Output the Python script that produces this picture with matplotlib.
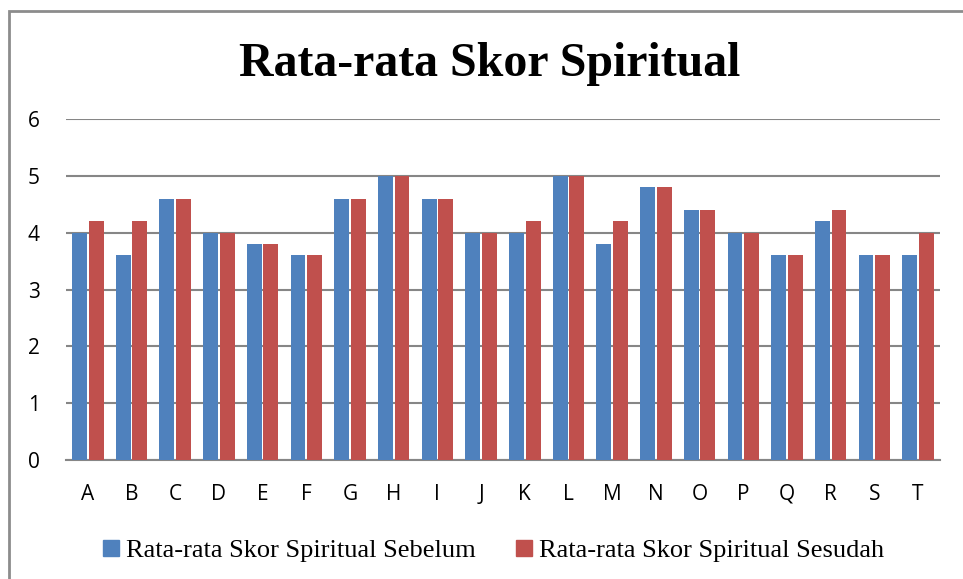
import numpy as np
import matplotlib
matplotlib.use('Agg')
import matplotlib.pyplot as plt
from matplotlib.patches import Rectangle
from matplotlib.lines import Line2D

categories = ['A', 'B', 'C', 'D', 'E', 'F', 'G', 'H', 'I', 'J',
              'K', 'L', 'M', 'N', 'O', 'P', 'Q', 'R', 'S', 'T']
sebelum = [4.0, 3.6, 4.6, 4.0, 3.8, 3.6, 4.6, 5.0, 4.6, 4.0,
           4.0, 5.0, 3.8, 4.8, 4.4, 4.0, 3.6, 4.2, 3.6, 3.6]
sesudah = [4.2, 4.2, 4.6, 4.0, 3.8, 3.6, 4.6, 5.0, 4.6, 4.0,
           4.2, 5.0, 4.2, 4.8, 4.4, 4.0, 3.6, 4.4, 3.6, 4.0]
yticks = [0, 1, 2, 3, 4, 5, 6]
label_a = 'Rata-rata Skor Spiritual Sebelum'
label_b = 'Rata-rata Skor Spiritual Sesudah'
title = 'Rata-rata Skor Spiritual'

blue = '#4F81BD'
red = '#C0504D'
grid = '#868686'

fig = plt.figure(figsize=(9.63, 5.79), dpi=100)
ax = fig.add_axes([0.0685, 0.2055, 0.9075, 0.589])

x = np.arange(len(categories))
w = 0.34
ax.bar(x - 0.19, sebelum, w, color=blue, zorder=3)
ax.bar(x + 0.19, sesudah, w, color=red, zorder=3)

ax.set_xlim(-0.5, len(categories) - 0.5)
ax.set_ylim(0, 6)
ax.set_yticks(yticks)
ax.set_xticks(x)
ax.set_xticklabels(categories)
ax.yaxis.grid(True, color=grid, linewidth=1.5, zorder=0)
for s in ['top', 'right', 'left']:
    ax.spines[s].set_visible(False)
ax.spines['bottom'].set_color(grid)
ax.spines['bottom'].set_linewidth(1.5)
ax.tick_params(axis='both', length=0, labelsize=15)
ax.tick_params(axis='y', pad=19)
ax.tick_params(axis='x', pad=17)
for lab in ax.get_xticklabels() + ax.get_yticklabels():
    lab.set_fontfamily('Open Sans')

fig.text(0.509, 0.89, title, ha='center', va='center',
         fontfamily='Liberation Serif', fontweight='bold', fontsize=34.5)

handles = [Line2D([], [], marker='s', color=blue, linestyle='none', markersize=11),
           Line2D([], [], marker='s', color=red, linestyle='none', markersize=11)]
fig.legend(handles, [label_a, label_b], loc='center', bbox_to_anchor=(0.503, 0.05),
           ncol=2, frameon=False, handletextpad=-0.45, columnspacing=0.85,
           prop={'family': 'Liberation Serif', 'size': 19})

# chart border (top and left visible)
fig.patches.append(Rectangle((9 / 963, -0.1), 1.2, 1.1 - 11 / 579, transform=fig.transFigure,
                             fill=False, edgecolor='#8c8c8c', linewidth=2))

fig.savefig('out.png', dpi=100)
